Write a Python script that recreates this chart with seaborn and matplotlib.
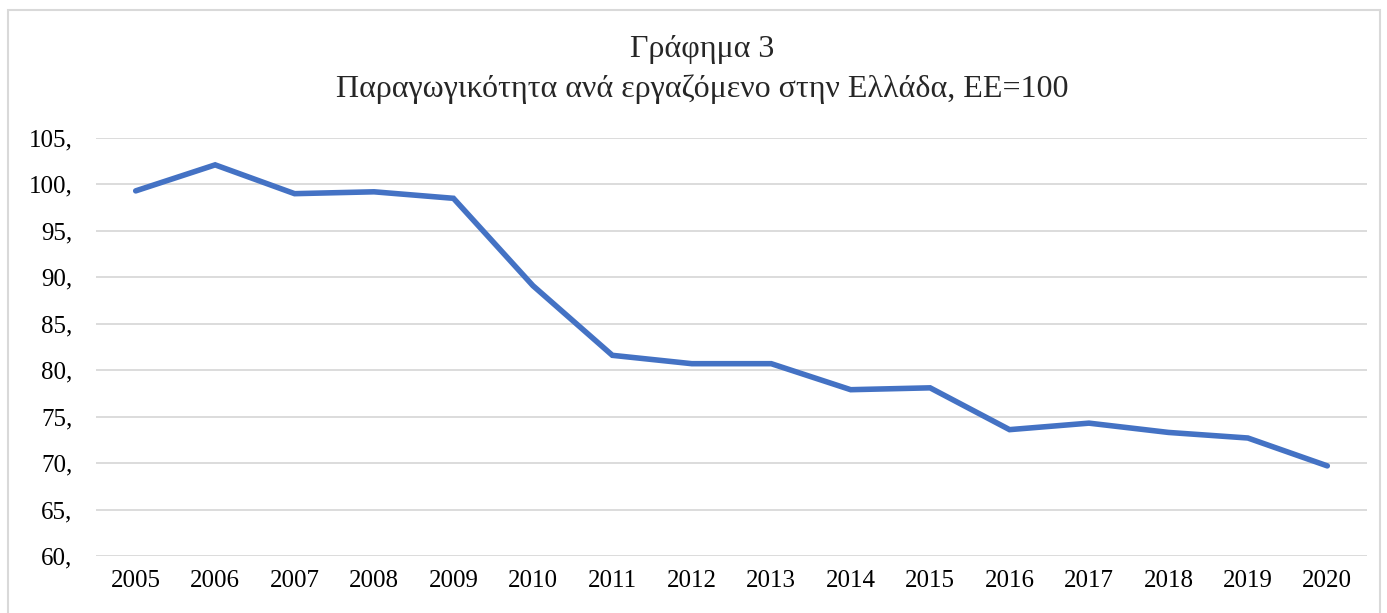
import pandas as pd
import seaborn as sns
import matplotlib.pyplot as plt
from matplotlib.patches import Rectangle

years = ['2005', '2006', '2007', '2008', '2009', '2010', '2011', '2012',
         '2013', '2014', '2015', '2016', '2017', '2018', '2019', '2020']
productivity = [99.3, 102.1, 99.0, 99.2, 98.5, 89.1, 81.6, 80.7,
                80.7, 77.9, 78.1, 73.6, 74.3, 73.3, 72.7, 69.7]
y_ticks = [60, 65, 70, 75, 80, 85, 90, 95, 100, 105]

df = pd.DataFrame({'year': years, 'value': productivity})

sns.set_style('white')
plt.rcParams['font.family'] = ['Liberation Serif', 'DejaVu Serif']

fig = plt.figure(figsize=(13.87, 6.13), dpi=100)
ax = fig.add_axes([0.0692, 0.093, 0.9164, 0.682])

sns.lineplot(data=df, x='year', y='value', ax=ax, color='#4472C4', linewidth=4,
             solid_capstyle='round', solid_joinstyle='miter')

ax.set_xlim(-0.5, len(years) - 0.5)
ax.set_ylim(60, 105)
ax.set_yticks(y_ticks)
ax.set_yticklabels([f'{t},' for t in y_ticks])
ax.yaxis.grid(True, color='#d9d9d9', linewidth=1.3)
ax.set_axisbelow(True)
ax.tick_params(axis='both', length=0, labelsize=18, colors='black')
ax.tick_params(axis='y', pad=17)
ax.tick_params(axis='x', pad=10)
ax.set(xlabel='', ylabel='')
sns.despine(ax=ax, left=True, bottom=True)

# two-line title, Excel-style
fig.text(0.506, 0.919, 'Γράφημα 3', ha='center', va='center', fontsize=23)
fig.text(0.506, 0.854, 'Παραγωγικότητα ανά εργαζόμενο στην Ελλάδα, ΕΕ=100',
         ha='center', va='center', fontsize=23)

fig.patches.append(Rectangle((8 / 1387, -0.05), 1372 / 1387, 1 - 10 / 613 + 0.05,
                             transform=fig.transFigure, fill=False,
                             edgecolor='#d9d9d9', linewidth=1.5))

fig.savefig('out.png', dpi=100)
